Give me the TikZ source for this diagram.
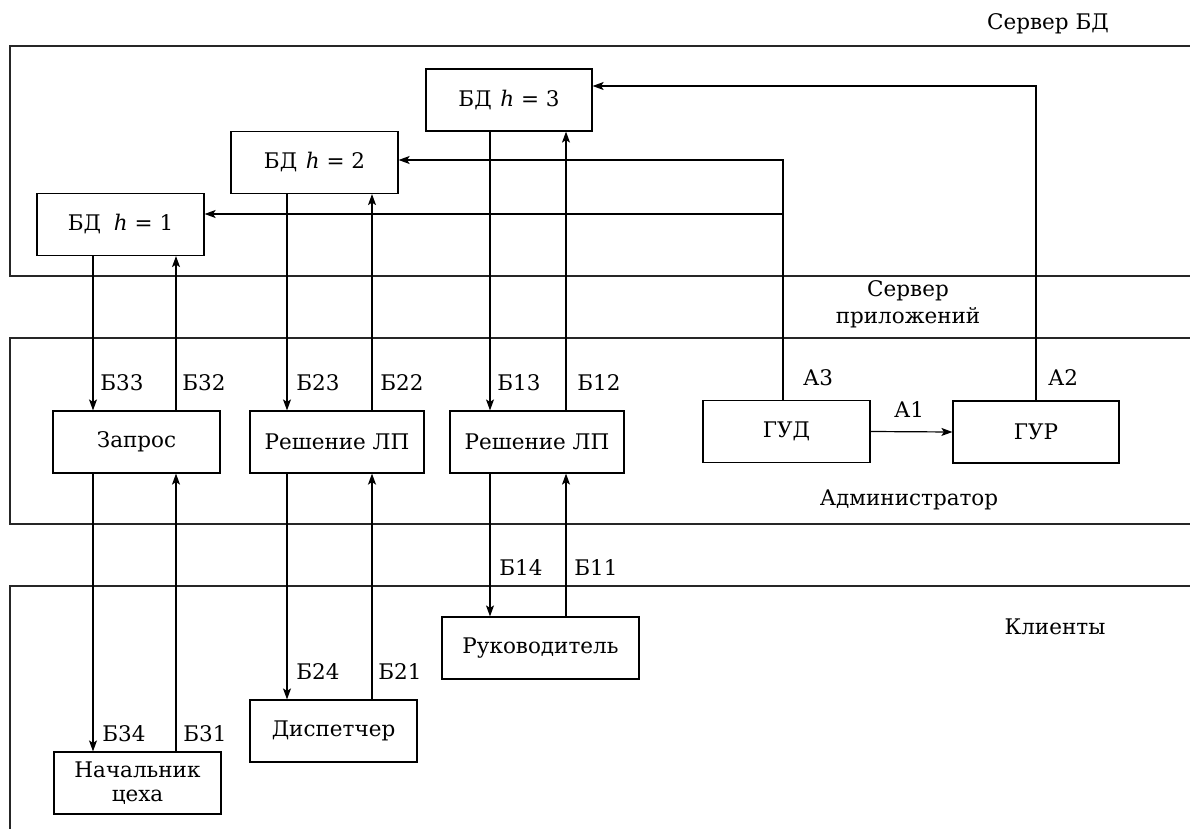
\documentclass[tikz,border=0pt]{standalone}
\usepackage{fontspec}
\setmainfont{DejaVu Serif}
\usetikzlibrary{arrows.meta,calc}
\begin{document}
\begin{tikzpicture}[x=1pt,y=-1pt,
  txt/.style={font=\fontsize{21.5}{24}\selectfont},
  box/.style={draw,line width=1.2pt,minimum height=62pt,inner sep=0pt,align=center,txt},
  lbl/.style={inner sep=0pt,txt},
  panel/.style={line width=1.3pt,draw=black!85},
  con/.style={line width=1.2pt},
  arr/.style={con,-{Stealth[length=11pt,width=8pt,inset=2.5pt]}}]
\useasboundingbox (0,0) rectangle (1190,829);
% panels
\draw[panel] (1190,46) -- (10,46) -- (10,276) -- (1190,276);
\draw[panel] (1190,338) -- (10,338) -- (10,524) -- (1190,524);
\draw[panel] (1190,586) -- (10,586) -- (10,829);
% panel labels
\node[lbl] (lsrv) at (1048,24) {Сервер БД};
\node[lbl,align=center,font=\fontsize{21.5}{27}\selectfont] (lapp) at (908,304) {Сервер\\приложений};
\node[lbl] (ladm) at (909,500) {Администратор};
\node[lbl] (lcli) at (1055,627) {Клиенты};
% boxes
\node[box,minimum width=167pt] (h1) at (120.5,224.5) {БД\hspace{0.6em}\textit{h} = 1};
\node[box,minimum width=167pt] (h2) at (314.5,162.5) {БД\hspace{0.4em}\textit{h} = 2};
\node[box,minimum width=166pt] (h3) at (509,100) {БД\hspace{0.4em}\textit{h} = 3};
\node[box,minimum width=167pt] (gud) at (786.5,431.5) {ГУД};
\node[box,minimum width=166pt] (gur) at (1036,432) {ГУР};
\node[box,minimum width=167pt] (zap) at (136.5,442) {Запрос};
\node[box,minimum width=174pt] (r1) at (337,442) {Решение ЛП};
\node[box,minimum width=174pt] (r2) at (537,442) {Решение ЛП};
\node[box,minimum width=167pt,align=center,font=\fontsize{21.5}{24}\selectfont] (nach) at (137.5,783) {Начальник\\цеха};
\node[box,minimum width=167pt] (disp) at (333.5,731) {Диспетчер};
\node[box,minimum width=197pt] (ruk) at (540.5,648) {Руководитель};
% x positions of connectors
\coordinate (xa) at (93,0);
\coordinate (xb) at (176,0);
\coordinate (xc) at (287,0);
\coordinate (xd) at (372,0);
\coordinate (xe) at (490,0);
\coordinate (xf) at (566,0);
\coordinate (xg) at (783,0);
\coordinate (xh) at (1036,0);
\coordinate (ya3) at (0,160);
\coordinate (yb3) at (0,214);
\coordinate (ya2) at (0,86);
% DB <-> app
\draw[arr] (h1.south -| xa) -- (zap.north -| xa);
\draw[arr] (zap.north -| xb) -- (h1.south -| xb);
\draw[arr] (h2.south -| xc) -- (r1.north -| xc);
\draw[arr] (r1.north -| xd) -- (h2.south -| xd);
\draw[arr] (h3.south -| xe) -- (r2.north -| xe);
\draw[arr] (r2.north -| xf) -- (h3.south -| xf);
% app <-> clients
\draw[arr] (zap.south -| xa) -- (nach.north -| xa);
\draw[arr] (nach.north -| xb) -- (zap.south -| xb);
\draw[arr] (r1.south -| xc) -- (disp.north -| xc);
\draw[arr,line width=1.6pt] (disp.north -| xd) -- (r1.south -| xd);
\draw[arr] (r2.south -| xe) -- (ruk.north -| xe);
\draw[arr] (ruk.north -| xf) -- (r2.south -| xf);
% admin
\draw[arr] (gud.north -| xg) -- (xg |- ya3) -- (h2.east |- ya3);
\draw[arr] (xg |- yb3) -- (h1.east |- yb3);
\draw[arr] (gur.north -| xh) -- (xh |- ya2) -- (h3.east |- ya2);
\draw[arr] (gud.east) -- (gur.west);
% connector labels
\node[lbl] (b33) at (122,383) {Б33};
\node[lbl] (b32) at (204,383) {Б32};
\node[lbl] (b23) at (318,383) {Б23};
\node[lbl] (b22) at (402,383) {Б22};
\node[lbl] (b13) at (519,383) {Б13};
\node[lbl] (b12) at (599,383) {Б12};
\node[lbl] (b14) at (521,568) {Б14};
\node[lbl] (b11) at (596,568) {Б11};
\node[lbl] (b34) at (124,734) {Б34};
\node[lbl] (b31) at (205,734) {Б31};
\node[lbl] (b24) at (318,672) {Б24};
\node[lbl] (b21) at (400,672) {Б21};
\node[lbl] (a3) at (818,378) {А3};
\node[lbl] (a2) at (1063,378) {А2};
\node[lbl] (a1) at (909,410) {А1};
\end{tikzpicture}
\end{document}
